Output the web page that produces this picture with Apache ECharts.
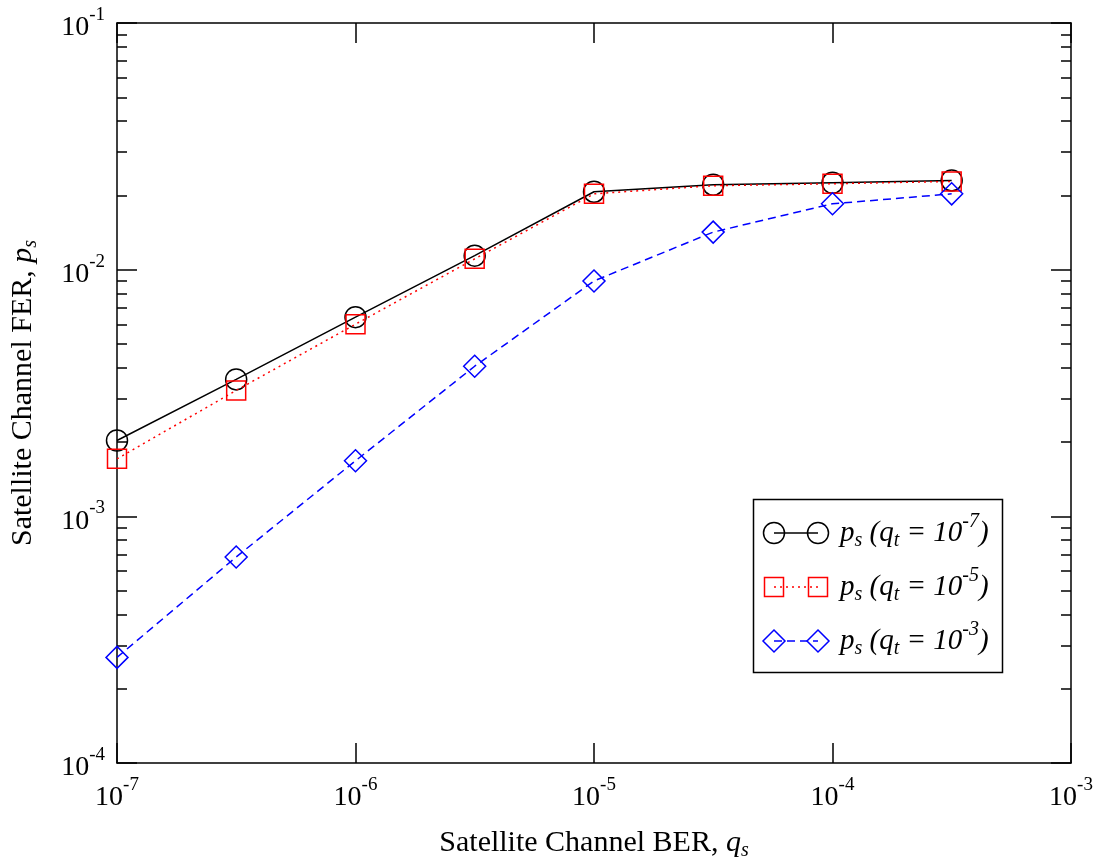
<!DOCTYPE html>
<html>
<head>
<meta charset="utf-8">
<script src="https://cdn.jsdelivr.net/npm/echarts@6/dist/echarts.min.js"></script>
<style>
html,body{margin:0;padding:0;background:#fff;}
#c{width:1103px;height:867px;}
</style>
</head>
<body>
<div id="c"></div>
<script>
// ---- data ----
const berValues = [1e-7, 3.16e-7, 1e-6, 3.16e-6, 1e-5, 3.16e-5, 1e-4, 3.16e-4];
const ferQt7 = [2.03e-3, 3.59e-3, 6.42e-3, 1.14e-2, 2.07e-2, 2.21e-2, 2.25e-2, 2.30e-2];
const ferQt5 = [1.71e-3, 3.24e-3, 6.01e-3, 1.106e-2, 2.03e-2, 2.19e-2, 2.23e-2, 2.28e-2];
const ferQt3 = [2.68e-4, 6.84e-4, 1.68e-3, 4.06e-3, 9.0e-3, 1.42e-2, 1.85e-2, 2.03e-2];
const seriesExps = ['-7', '-5', '-3'];
const xTickExps = [-7, -6, -5, -4, -3];
const yTickExps = [-4, -3, -2, -1];
const yMinorMults = [2, 3, 4, 5, 6, 7, 8, 9];

const FONT = '"Liberation Serif", "Times New Roman", serif';
const yMinorValues = [];
for (let e = -4; e < -1; e++) for (const m of yMinorMults) yMinorValues.push(+(m * Math.pow(10, e)).toPrecision(3));
const yMajorValues = yTickExps.map(e => Math.pow(10, e));
const xMajorValues = xTickExps.map(e => Math.pow(10, e));

function pow10Label(v) {
  const e = Math.round(Math.log10(v));
  return '{b|10}{s|' + e + '}';
}
const labelRich = {
  b: { fontFamily: FONT, fontSize: 28, color: '#000', lineHeight: 30, padding: [10, 0, 0, 0] },
  s: { fontFamily: FONT, fontSize: 19, color: '#000', lineHeight: 30, padding: [0, 0, 16, 0] }
};

const chart = echarts.init(document.getElementById('c'), null, { renderer: 'canvas' });
const axisLineStyle = { color: '#000', width: 1.5 };
const gridL = 114, gridT = 23, gridR = 1071, gridB = 763;

function xAxisDef(pos, labels) {
  return {
    type: 'log', logBase: 10, min: 1e-7, max: 1e-3, position: pos,
    axisLine: { show: true, onZero: false, lineStyle: axisLineStyle },
    axisTick: { show: true, inside: true, length: 20, lineStyle: axisLineStyle, customValues: xMajorValues },
    axisLabel: { show: labels, margin: 15, formatter: pow10Label, rich: labelRich, customValues: xMajorValues },
    splitLine: { show: false }, minorTick: { show: false }
  };
}
function yAxisDef(pos, labels, minor) {
  return {
    type: 'log', logBase: 10, min: 1e-4, max: 1e-1, position: pos,
    axisLine: { show: !minor, onZero: false, lineStyle: axisLineStyle },
    axisTick: { show: true, inside: true, length: minor ? 10 : 20, lineStyle: axisLineStyle,
      customValues: minor ? yMinorValues : yMajorValues },
    axisLabel: { show: labels, margin: 12, formatter: pow10Label, rich: labelRich, customValues: yMajorValues },
    splitLine: { show: false }, minorTick: { show: false }
  };
}

const nameRich = {
  n: { fontFamily: FONT, fontSize: 30, color: '#000' },
  i: { fontFamily: FONT, fontSize: 30, fontStyle: 'italic', color: '#000' },
  sub: { fontFamily: FONT, fontSize: 20, fontStyle: 'italic', color: '#000', padding: [16, 0, 0, 0] }
};
const xBottom = xAxisDef('bottom', true);
xBottom.name = '{n|Satellite Channel BER, }{i|q}{sub|s}';
xBottom.nameLocation = 'middle';
xBottom.nameGap = 62;
xBottom.nameTextStyle = { rich: nameRich };
const yLeft = yAxisDef('left', true, false);
yLeft.name = '{n|Satellite Channel FER, }{i|p}{sub|s}';
yLeft.nameLocation = 'middle';
yLeft.nameRotate = 90;
yLeft.nameGap = 76;
yLeft.nameTextStyle = { rich: nameRich };

const legendRows = [
  { y: 533, color: '#000', symbol: 'circle', exp: seriesExps[0], dash: 'solid' },
  { y: 587, color: '#ff0000', symbol: 'square', exp: seriesExps[1], dash: [2, 4] },
  { y: 641, color: '#0000ff', symbol: 'diamond', exp: seriesExps[2], dash: [8, 5] }
];
const legendGraphics = [{
  type: 'rect', shape: { x: 753.5, y: 499.5, width: 249, height: 173 },
  style: { fill: '#fff', stroke: '#000', lineWidth: 1.5 }, z: 50
}];
const x1 = 774, x2 = 818;
for (const r of legendRows) {
  legendGraphics.push({ type: 'line', shape: { x1: x1, y1: r.y, x2: x2, y2: r.y },
    style: { stroke: r.color, lineWidth: 1.5, lineDash: r.dash }, z: 51 });
  for (const cx of [x1, x2]) {
    let g;
    if (r.symbol === 'circle') g = { type: 'circle', shape: { cx: cx, cy: r.y, r: 10.5 } };
    else if (r.symbol === 'square') g = { type: 'rect', shape: { x: cx - 9.5, y: r.y - 9.5, width: 19, height: 19 } };
    else g = { type: 'polygon', shape: { points: [[cx, r.y - 11], [cx + 11, r.y], [cx, r.y + 11], [cx - 11, r.y]] } };
    g.style = { fill: 'none', stroke: r.color, lineWidth: 1.5 };
    g.z = 52;
    legendGraphics.push(g);
  }
  legendGraphics.push({
    type: 'text', x: 840, y: r.y, z: 52,
    style: {
      text: '{i|p}{sub|s}{i| (q}{sub|t}{i| = 10}{sup|' + r.exp + '}{i|)}',
      verticalAlign: 'middle', align: 'left',
      rich: {
        i: { fontFamily: FONT, fontSize: 29, fontStyle: 'italic', fill: '#000', lineHeight: 30 },
        sub: { fontFamily: FONT, fontSize: 20, fontStyle: 'italic', fill: '#000', lineHeight: 30, padding: [16, 0, 0, 0] },
        sup: { fontFamily: FONT, fontSize: 20, fontStyle: 'italic', fill: '#000', lineHeight: 30, padding: [0, 0, 22, 0] }
      }
    }
  });
}

function mk(vals) { return berValues.map((x, i) => [x, vals[i]]); }

chart.setOption({
  backgroundColor: '#fff',
  animation: false,
  grid: { left: gridL, top: gridT, right: 1103 - gridR, bottom: 867 - gridB, containLabel: false },
  xAxis: [xBottom, xAxisDef('top', false)],
  yAxis: [yLeft, yAxisDef('left', false, true), yAxisDef('right', false, false), yAxisDef('right', false, true)],
  series: [
    { name: 'qt7', type: 'line', data: mk(ferQt7), symbol: 'circle', symbolSize: 21,
      itemStyle: { color: 'rgba(0,0,0,0)', borderColor: '#000', borderWidth: 1.5 },
      lineStyle: { color: '#000', width: 1.5, type: 'solid' }, z: 3 },
    { name: 'qt5', type: 'line', data: mk(ferQt5), symbol: 'rect', symbolSize: 19,
      itemStyle: { color: 'rgba(0,0,0,0)', borderColor: '#ff0000', borderWidth: 1.5 },
      lineStyle: { color: '#ff0000', width: 1.5, type: [2, 4] }, z: 4 },
    { name: 'qt3', type: 'line', data: mk(ferQt3), symbol: 'diamond', symbolSize: 22,
      itemStyle: { color: 'rgba(0,0,0,0)', borderColor: '#0000ff', borderWidth: 1.5 },
      lineStyle: { color: '#0000ff', width: 1.5, type: [8, 5] }, z: 5 }
  ],
  graphic: legendGraphics
});
</script>
</body>
</html>
